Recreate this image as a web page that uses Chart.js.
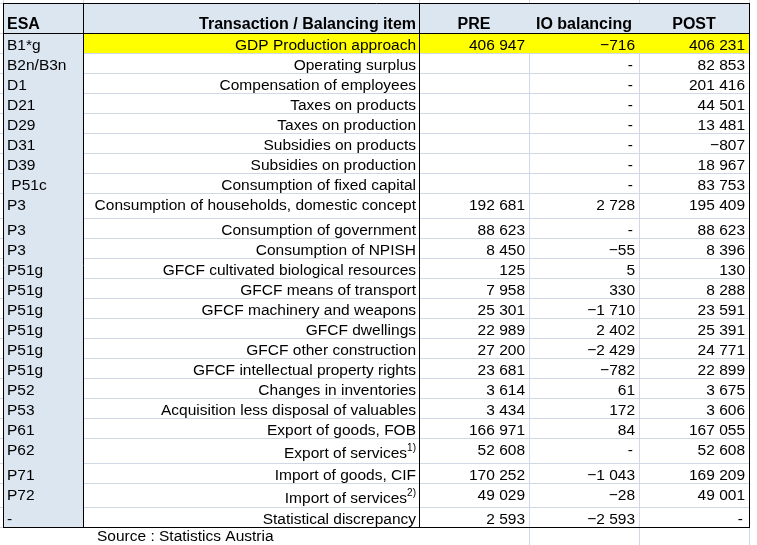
<!DOCTYPE html>
<html>
<head>
<meta charset="utf-8">
<title>IO balancing</title>
<script src="https://cdn.jsdelivr.net/npm/chart.js@4/dist/chart.umd.min.js"></script>
<style>
  html, body { margin: 0; padding: 0; background: #fff; }
  #wrap { width: 757px; height: 545px; }
</style>
</head>
<body>
<div id="wrap"><canvas id="ioTable"></canvas></div>
<script>
const headers = ['ESA', 'Transaction / Balancing item', 'PRE', 'IO balancing', 'POST'];
const esaCodes = ['B1*g', 'B2n/B3n', 'D1', 'D21', 'D29', 'D31', 'D39', ' P51c', 'P3', 'P3', 'P3',
  'P51g', 'P51g', 'P51g', 'P51g', 'P51g', 'P51g', 'P52', 'P53', 'P61', 'P62', 'P71', 'P72', '-'];
const items = ['GDP Production approach', 'Operating surplus', 'Compensation of employees',
  'Taxes on products', 'Taxes on production', 'Subsidies on products', 'Subsidies on production',
  'Consumption of fixed capital', 'Consumption of households, domestic concept',
  'Consumption of government', 'Consumption of NPISH', 'GFCF cultivated biological resources',
  'GFCF means of transport', 'GFCF machinery and weapons', 'GFCF dwellings',
  'GFCF other construction', 'GFCF intellectual property rights', 'Changes in inventories',
  'Acquisition less disposal of valuables', 'Export of goods, FOB', 'Export of services',
  'Import of goods, CIF', 'Import of services', 'Statistical discrepancy'];
const itemNotes = { 20: '1)', 22: '2)' };
const pre = [406947, null, null, null, null, null, null, null, 192681, 88623, 8450, 125, 7958,
  25301, 22989, 27200, 23681, 3614, 3434, 166971, 52608, 170252, 49029, 2593];
const ioBalancing = [-716, 0, 0, 0, 0, 0, 0, 0, 2728, 0, -55, 5, 330, -1710, 2402, -2429, -782,
  61, 172, 84, 0, -1043, -28, -2593];
const post = [406231, 82853, 201416, 44501, 13481, -807, 18967, 83753, 195409, 88623, 8396, 130,
  8288, 23591, 25391, 24771, 22899, 3675, 3606, 167055, 52608, 169209, 49001, 0];
const highlightRow = 0;
const source = 'Source : Statistics Austria';

// layout (sheet units)
const colWidths = [80, 336, 110, 110, 110];
const headerHeight = 30;
const rowHeights = [20, 20, 20, 20, 20, 20, 20, 20, 25, 20, 20, 20, 20, 20, 20, 20, 20, 20, 20, 20, 25, 20, 24, 20];

const FONT = '"Liberation Sans", Arial, sans-serif';
const FONT_SIZE = 15.5;
const HEADER_SIZE = 16;
const HEADER_BG = '#dce6f1';
const HIGHLIGHT_BG = '#ffff00';
const GRID = '#d0d7e5';

const colEdges = [0];
colWidths.forEach(w => colEdges.push(colEdges[colEdges.length - 1] + w));
const rowEdges = [0, headerHeight];
rowHeights.forEach(h => rowEdges.push(rowEdges[rowEdges.length - 1] + h));
const totalW = colEdges[colEdges.length - 1];
const totalH = rowEdges[rowEdges.length - 1];

function fmt(v) {
  if (v === null) return '';
  if (v === 0) return '-';
  const s = Math.abs(v).toString().replace(/\B(?=(\d{3})+(?!\d))/g, ' ');
  return (v < 0 ? '\u2212' : '') + s;
}

const tablePlugin = {
  id: 'tableCells',
  beforeDatasetsDraw(chart) {
    const ctx = chart.ctx;
    const px = v => Math.round(chart.scales.x.getPixelForValue(v));
    const py = v => Math.round(chart.scales.y.getPixelForValue(v));
    ctx.save();
    // header band
    ctx.fillStyle = HEADER_BG;
    ctx.fillRect(px(0), py(0), px(totalW) - px(0), py(headerHeight) - py(0));
    // ESA column
    ctx.fillRect(px(0), py(headerHeight), px(colEdges[1]) - px(0), py(totalH) - py(headerHeight));
    // highlighted row
    const r = highlightRow + 1;
    ctx.fillStyle = HIGHLIGHT_BG;
    ctx.fillRect(px(colEdges[1]) + 1, py(rowEdges[r]) + 1,
      px(totalW) - px(colEdges[1]) - 1, py(rowEdges[r + 1]) - py(rowEdges[r]) - 1);
    ctx.restore();
  },
  afterDatasetsDraw(chart) {
    const ctx = chart.ctx;
    const px = v => Math.round(chart.scales.x.getPixelForValue(v));
    const py = v => Math.round(chart.scales.y.getPixelForValue(v));
    const hLine = (x0, x1, y, c) => {
      ctx.strokeStyle = c; ctx.beginPath(); ctx.moveTo(x0, y + 0.5); ctx.lineTo(x1, y + 0.5); ctx.stroke();
    };
    const vLine = (x, y0, y1, c) => {
      ctx.strokeStyle = c; ctx.beginPath(); ctx.moveTo(x + 0.5, y0); ctx.lineTo(x + 0.5, y1); ctx.stroke();
    };
    ctx.save();
    ctx.lineWidth = 1;

    // sheet gridlines outside the table
    colEdges.forEach(c => vLine(px(c), 0, py(0), GRID));
    rowEdges.forEach(r => hLine(0, px(0), py(r), GRID));
    colEdges.slice(3).forEach(c => vLine(px(c), py(totalH) + 1, chart.height, GRID));

    // black borders
    const left = px(0), right = px(totalW), top = py(0), bottom = py(totalH);
    hLine(left, right + 1, top, '#000');
    hLine(left, right + 1, bottom, '#000');
    hLine(left, right + 1, py(headerHeight), '#000');
    vLine(left, top, bottom + 1, '#000');
    vLine(right, top, bottom + 1, '#000');
    vLine(px(colEdges[1]), top, bottom + 1, '#000');
    vLine(px(colEdges[2]), top, bottom + 1, '#000');

    ctx.fillStyle = '#000';
    ctx.textBaseline = 'alphabetic';

    // header
    ctx.font = 'bold ' + HEADER_SIZE + 'px ' + FONT;
    const hb = py(headerHeight) - 4;
    ctx.textAlign = 'left';
    ctx.fillText(headers[0], px(0) + 4, hb);
    ctx.textAlign = 'right';
    ctx.fillText(headers[1], px(colEdges[2]) - 3, hb);
    ctx.textAlign = 'center';
    for (let c = 2; c < 5; c++) {
      ctx.fillText(headers[c], (px(colEdges[c]) + px(colEdges[c + 1])) / 2, hb);
    }

    // body
    ctx.font = FONT_SIZE + 'px ' + FONT;
    const cols = [pre, ioBalancing, post];
    esaCodes.forEach((code, i) => {
      const top = py(rowEdges[i + 1]);
      const base = top + 16.5;
      ctx.textAlign = 'left';
      ctx.fillText(code, px(0) + 4, base);

      ctx.textAlign = 'right';
      const itemRight = px(colEdges[2]) - 3;
      const note = itemNotes[i];
      if (note) {
        ctx.font = '10px ' + FONT;
        const nw = ctx.measureText(note).width;
        ctx.fillText(note, itemRight, top + 13);
        ctx.font = FONT_SIZE + 'px ' + FONT;
        ctx.fillText(items[i], itemRight - nw, top + 20);
      } else {
        ctx.fillText(items[i], itemRight, base);
      }

      cols.forEach((series, k) => {
        const v = series[i];
        const right = px(colEdges[k + 3]) - (v === 0 ? 6 : 4);
        ctx.fillText(fmt(v), right, base);
      });
    });

    // source note below the table
    ctx.textAlign = 'left';
    ctx.fillText(source, px(colEdges[1]) + 14, py(totalH) + 14);
    ctx.restore();
  }
};

new Chart(document.getElementById('ioTable'), {
  type: 'scatter',
  data: { datasets: [] },
  plugins: [tablePlugin],
  options: {
    responsive: true,
    maintainAspectRatio: false,
    animation: false,
    events: [],
    layout: { padding: { left: 3, top: 3, right: 8, bottom: 18 } },
    plugins: { legend: { display: false }, tooltip: { enabled: false } },
    scales: {
      x: {
        type: 'linear', min: 0, max: totalW,
        afterBuildTicks: s => { s.ticks = colEdges.map(v => ({ value: v })); },
        ticks: { display: false },
        grid: { color: GRID, drawTicks: false },
        border: { display: false }
      },
      y: {
        type: 'linear', min: 0, max: totalH, reverse: true,
        afterBuildTicks: s => { s.ticks = rowEdges.map(v => ({ value: v })); },
        ticks: { display: false },
        grid: { color: GRID, drawTicks: false },
        border: { display: false }
      }
    }
  }
});
</script>
</body>
</html>
